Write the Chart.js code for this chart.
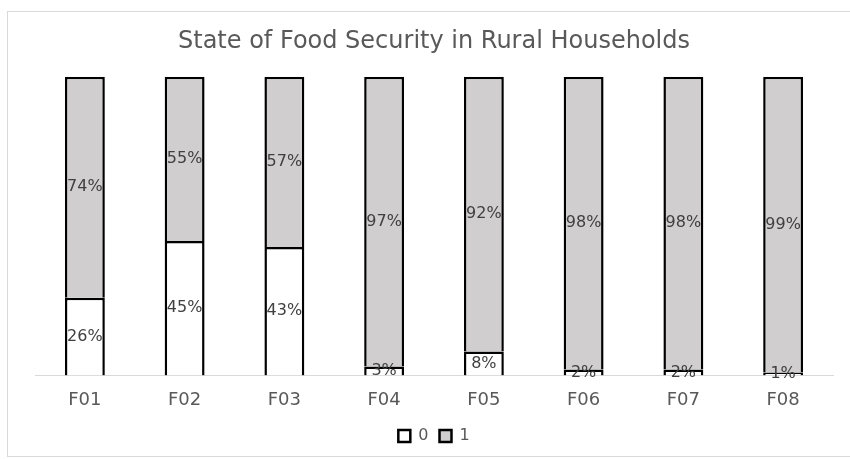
<!DOCTYPE html>
<html>
<head>
<meta charset="utf-8">
<script src="https://cdn.jsdelivr.net/npm/chart.js@4/dist/chart.umd.min.js"></script>
<style>
  html,body{margin:0;padding:0;background:#fff;}
  #wrap{position:absolute;left:7px;top:11px;width:850px;height:446px;border:1px solid #d9d9d9;box-sizing:border-box;}
  #box{position:absolute;left:0;top:0;width:850px;height:459px;}
</style>
</head>
<body>
<div id="wrap"></div>
<div id="box"><canvas id="chart"></canvas></div>
<script>
var labels=['F01','F02','F03','F04','F05','F06','F07','F08'];
var share0=[26,45,43,3,8,2,2,1];
var share1=[74,55,57,97,92,98,98,99];

var FONT='"DejaVu Sans"';

// draws the percent inside each stacked segment
var segLabels={
  id:'segLabels',
  afterDatasetsDraw:function(chart){
    var ctx=chart.ctx;
    ctx.save();
    ctx.font='16px '+FONT;
    ctx.fillStyle='#404040';
    ctx.textAlign='center';
    ctx.textBaseline='middle';
    chart.data.datasets.forEach(function(ds,i){
      chart.getDatasetMeta(i).data.forEach(function(bar,j){
        var y=(bar.y+bar.base)/2;
        ctx.fillText(ds.data[j]+'%',bar.x,y);
      });
    });
    ctx.restore();
  }
};

var ctx=document.getElementById('chart').getContext('2d');
var chart=new Chart(ctx,{
  type:'bar',
  data:{
    labels:labels,
    datasets:[{
      label:'0',
      data:share0,
      backgroundColor:'#ffffff',
      borderColor:'#000000',
      borderWidth:2.5
    },{
      label:'1',
      data:share1,
      backgroundColor:'#d0cece',
      borderColor:'#000000',
      borderWidth:2.5
    }]
  },
  options:{
    responsive:true,
    maintainAspectRatio:false,
    animation:false,
    layout:{padding:{left:35,right:17,top:27,bottom:5}},
    datasets:{bar:{barPercentage:0.4,categoryPercentage:1}},
    plugins:{
      title:{
        display:true,
        text:'State of Food Security in Rural Households',
        color:'#595959',
        font:{family:FONT,size:24,weight:'normal'},
        padding:{top:0,bottom:21}
      },
      legend:{
        position:'bottom',
        labels:{
          color:'#595959',
          font:{family:FONT,size:16},
          boxWidth:12,
          boxHeight:12,
          padding:11
        }
      },
      tooltip:{enabled:false}
    },
    scales:{
      x:{
        stacked:true,
        grid:{display:false},
        border:{color:'#d9d9d9',width:1},
        ticks:{color:'#595959',font:{family:FONT,size:18},padding:6}
      },
      y:{
        stacked:true,
        display:false,
        min:0,
        max:100
      }
    }
  },
  plugins:[segLabels]
});
</script>
</body>
</html>
